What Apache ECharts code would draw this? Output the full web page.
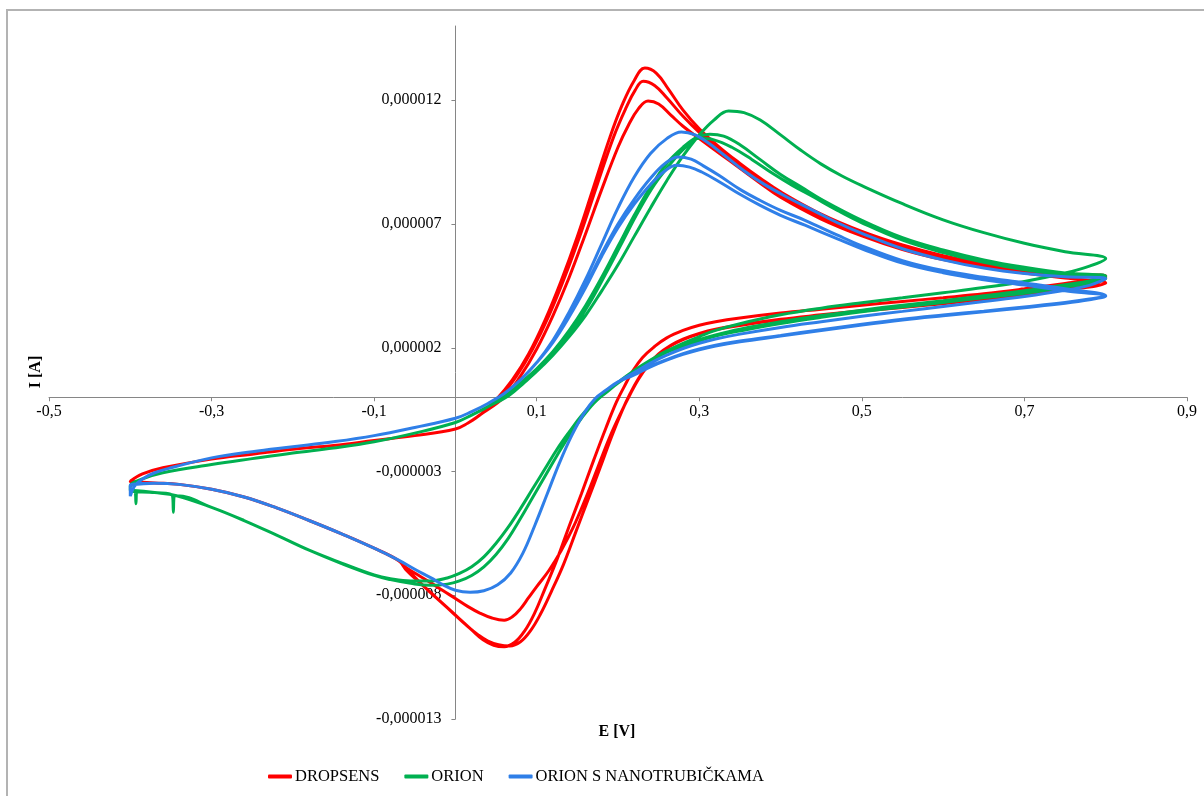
<!DOCTYPE html>
<html>
<head>
<meta charset="utf-8">
<script src="https://cdn.jsdelivr.net/npm/echarts@6/dist/echarts.min.js"></script>
<style>
  html, body { margin: 0; padding: 0; background: #fff; }
  #chart { width: 1204px; height: 796px; }
</style>
</head>
<body>
<div id="chart"></div>
<script>
// Cyclic voltammograms: potential E [V] vs current I (stored in µA, labelled in A)

const seriesNames = ['DROPSENS', 'ORION', 'ORION S NANOTRUBIČKAMA'];
const seriesColors = ['#ff0000', '#00b050', '#2f7fe8'];

// axis ranges
const eRange = [-0.5, 0.9];
const eStep = 0.2;
const iRange = [-13, 15];
const iStep = 5;

// ---- DROPSENS ----
const dropsensStart = [[-0.4,-3.4],[-0.385,-3.1],[-0.36,-2.85],[-0.3,-2.5],[-0.25,-2.3],[-0.2,-2.1],[-0.15,-1.95],[-0.1,-1.75],[-0.05,-1.55],[0,-1.28],[0.015,-1.05],[0.03,-0.72]];
const dropsensReturn = [[-0.07,-6.6],[-0.1,-6.1],[-0.14,-5.52],[-0.18,-4.98],[-0.22,-4.47],[-0.26,-4.03],[-0.3,-3.72],[-0.34,-3.52],[-0.37,-3.46],[-0.4,-3.4]];
const dropsensCycle1 = [[0.05,-0.1],[0.07,0.7],[0.09,1.75],[0.11,3.1],[0.13,4.7],[0.15,6.5],[0.17,8.5],[0.19,10.5],[0.205,11.8],[0.22,12.8],[0.233,13.3],[0.247,13.1],[0.262,12.45],[0.28,11.6],[0.3,10.85],[0.325,10.1],[0.35,9.45],[0.375,8.85],[0.4,8.3],[0.45,7.4],[0.5,6.7],[0.55,6.15],[0.6,5.72],[0.65,5.4],[0.7,5.15],[0.75,4.98],[0.8,4.9],
  [0.78,4.72],[0.75,4.6],[0.7,4.38],[0.65,4.18],[0.6,4.02],[0.55,3.87],[0.5,3.72],[0.45,3.56],[0.4,3.4],[0.35,3.2],[0.32,3.05],[0.3,2.91],[0.28,2.7],[0.26,2.4],[0.245,2.05],[0.23,1.6],[0.218,1.05],[0.208,0.45],[0.198,-0.2],[0.185,-1.25],[0.17,-2.55],[0.155,-3.9],[0.14,-5.2],[0.125,-6.55],[0.11,-7.75],[0.097,-8.75],[0.085,-9.45],[0.073,-9.9],[0.06,-10.08],[0.047,-10.02],[0.034,-9.8],[0.02,-9.4],[0.005,-8.95],[-0.01,-8.5],[-0.025,-8.05],[-0.04,-7.6],[-0.055,-7.1]];
const dropsensCycle2 = [[0.055,0.0],[0.075,0.85],[0.095,1.95],[0.115,3.3],[0.135,4.9],[0.155,6.7],[0.175,8.65],[0.195,10.55],[0.21,11.7],[0.221,12.4],[0.231,12.77],[0.245,12.6],[0.26,12.1],[0.28,11.35],[0.3,10.7],[0.325,10.0],[0.35,9.4],[0.375,8.8],[0.4,8.2],[0.45,7.3],[0.5,6.62],[0.55,6.07],[0.6,5.66],[0.65,5.35],[0.7,5.1],[0.75,4.93],[0.8,4.83],
  [0.78,4.5],[0.75,4.38],[0.7,4.15],[0.65,3.97],[0.6,3.8],[0.55,3.65],[0.5,3.5],[0.45,3.33],[0.4,3.15],[0.35,2.92],[0.32,2.75],[0.3,2.58],[0.28,2.35],[0.265,2.1],[0.25,1.75],[0.237,1.3],[0.225,0.75],[0.215,0.15],[0.205,-0.55],[0.192,-1.6],[0.178,-2.85],[0.163,-4.15],[0.148,-5.45],[0.133,-6.75],[0.118,-7.85],[0.104,-8.8],[0.092,-9.45],[0.08,-9.88],[0.067,-10.05],[0.053,-10.0],[0.04,-9.85],[0.028,-9.6],[0.013,-9.2],[-0.002,-8.75],[-0.017,-8.3],[-0.032,-7.85],[-0.047,-7.4],[-0.06,-7.0]];
const dropsensCycle3 = [[0.06,0.0],[0.08,0.85],[0.1,1.95],[0.12,3.3],[0.14,4.85],[0.16,6.6],[0.18,8.4],[0.2,10.1],[0.213,11.0],[0.225,11.65],[0.237,11.97],[0.25,11.85],[0.265,11.4],[0.28,10.95],[0.3,10.45],[0.325,9.85],[0.35,9.25],[0.375,8.65],[0.4,8.08],[0.45,7.2],[0.5,6.52],[0.55,5.97],[0.6,5.56],[0.65,5.26],[0.7,5.02],[0.75,4.82],[0.8,4.62],
  [0.78,4.45],[0.75,4.35],[0.7,4.12],[0.65,3.95],[0.6,3.78],[0.55,3.63],[0.5,3.48],[0.45,3.31],[0.4,3.13],[0.35,2.9],[0.32,2.73],[0.3,2.56],[0.28,2.33],[0.265,2.08],[0.25,1.73],[0.237,1.28],[0.225,0.72],[0.215,0.12],[0.204,-0.6],[0.19,-1.6],[0.175,-2.85],[0.16,-4.1],[0.145,-5.25],[0.13,-6.2],[0.115,-7.0],[0.1,-7.65],[0.09,-8.1],[0.08,-8.55],[0.07,-8.87],[0.06,-9.01],[0.045,-8.92],[0.03,-8.72],[0.015,-8.45],[0,-8.13],[-0.015,-7.82],[-0.03,-7.5],[-0.045,-7.2],[-0.06,-6.9]];

// ---- ORION ----
const orionStart = [[-0.4,-3.6],[-0.385,-3.3],[-0.36,-3.05],[-0.3,-2.72],[-0.25,-2.48],[-0.2,-2.25],[-0.15,-2.05],[-0.1,-1.8],[-0.05,-1.45],[0,-1.02],[0.02,-0.72],[0.04,-0.38]];
const orionCathodic = [[0.26,1.87],[0.24,1.5],[0.22,1.08],[0.2,0.6],[0.185,0.2],[0.17,-0.25],[0.155,-0.85],[0.14,-1.55],[0.125,-2.35],[0.11,-3.2],[0.095,-4.05],[0.08,-4.9],[0.065,-5.7],[0.05,-6.35],[0.035,-6.85],[0.02,-7.2],[0.005,-7.42],[-0.01,-7.55],[-0.03,-7.6],[-0.055,-7.52],[-0.08,-7.37],[-0.1,-7.2],[-0.14,-6.72],[-0.18,-6.18],[-0.22,-5.57],[-0.26,-4.98],[-0.3,-4.45],[-0.343,-3.98],[-0.37,-3.85],[-0.4,-3.76]];
const orionCathodicSpikes = [[0.26,1.87],[0.24,1.5],[0.22,1.08],[0.2,0.6],[0.185,0.2],[0.17,-0.25],[0.155,-0.85],[0.14,-1.55],[0.125,-2.35],[0.11,-3.2],[0.095,-4.05],[0.08,-4.9],[0.065,-5.7],[0.05,-6.35],[0.035,-6.85],[0.02,-7.2],[0.005,-7.42],[-0.01,-7.55],[-0.03,-7.6],[-0.055,-7.52],[-0.08,-7.37],[-0.1,-7.2],[-0.14,-6.72],[-0.18,-6.18],[-0.22,-5.57],[-0.26,-4.98],[-0.3,-4.45],[-0.343,-3.98],[-0.346,-4.0],[-0.347,-4.65],[-0.348,-4.0],[-0.37,-3.85],[-0.392,-3.8],[-0.393,-4.3],[-0.394,-3.8],[-0.4,-3.76]];
const orionCathodicLate = [[0.26,1.82],[0.24,1.45],[0.22,1.03],[0.2,0.57],[0.185,0.18],[0.17,-0.22],[0.155,-0.75],[0.14,-1.4],[0.125,-2.1],[0.11,-2.9],[0.095,-3.7],[0.08,-4.5],[0.065,-5.25],[0.05,-5.9],[0.035,-6.45],[0.02,-6.85],[0.005,-7.12],[-0.01,-7.3],[-0.03,-7.42],[-0.055,-7.42],[-0.08,-7.33],[-0.1,-7.18],[-0.14,-6.7],[-0.18,-6.18],[-0.22,-5.57],[-0.26,-4.98],[-0.3,-4.45],[-0.343,-3.98],[-0.37,-3.85],[-0.4,-3.76]];
const orionCycle1 = [[0.06,0.0],[0.08,0.5],[0.1,1.05],[0.12,1.7],[0.14,2.45],[0.16,3.3],[0.18,4.3],[0.2,5.35],[0.22,6.5],[0.24,7.65],[0.26,8.75],[0.28,9.75],[0.3,10.6],[0.318,11.2],[0.336,11.57],[0.355,11.5],[0.375,11.2],[0.4,10.6],[0.425,9.98],[0.45,9.42],[0.475,8.95],[0.5,8.55],[0.55,7.82],[0.6,7.17],[0.65,6.65],[0.7,6.22],[0.75,5.88],[0.8,5.6],
  [0.78,5.3],[0.75,5.02],[0.7,4.68],[0.65,4.43],[0.6,4.22],[0.55,4.02],[0.5,3.82],[0.45,3.6],[0.4,3.33],[0.35,2.97],[0.32,2.7],[0.3,2.45],[0.28,2.18]];
const orionCycle2 = [[0.06,0.05],[0.08,0.58],[0.1,1.15],[0.12,1.85],[0.14,2.7],[0.16,3.7],[0.18,4.85],[0.2,6.1],[0.22,7.35],[0.24,8.5],[0.26,9.45],[0.28,10.1],[0.297,10.5],[0.313,10.63],[0.33,10.55],[0.35,10.2],[0.375,9.6],[0.4,9.0],[0.425,8.5],[0.45,8.0],[0.5,7.15],[0.55,6.45],[0.6,5.95],[0.65,5.55],[0.7,5.25],[0.75,5.02],[0.8,4.9],
  [0.78,4.7],[0.75,4.55],[0.7,4.3],[0.65,4.1],[0.6,3.9],[0.55,3.72],[0.5,3.52],[0.45,3.3],[0.4,3.05],[0.35,2.75],[0.32,2.52],[0.3,2.33],[0.28,2.1]];
const orionCycle3 = [[0.065,0.05],[0.085,0.6],[0.105,1.2],[0.125,1.9],[0.145,2.78],[0.165,3.8],[0.185,5.0],[0.205,6.25],[0.225,7.5],[0.245,8.6],[0.265,9.45],[0.283,10.1],[0.3,10.46],[0.318,10.4],[0.34,10.1],[0.365,9.6],[0.39,9.05],[0.415,8.55],[0.44,8.1],[0.47,7.55],[0.5,7.05],[0.55,6.35],[0.6,5.85],[0.65,5.45],[0.7,5.15],[0.75,4.95],[0.8,4.8],
  [0.78,4.6],[0.75,4.45],[0.7,4.2],[0.65,4.02],[0.6,3.83],[0.55,3.65],[0.5,3.45],[0.45,3.23],[0.4,2.98],[0.35,2.68],[0.32,2.47],[0.3,2.28],[0.28,2.05]];

// ---- ORION S NANOTRUBIČKAMA ----
const nanoStart = [[-0.4,-4.0],[-0.395,-3.6],[-0.385,-3.3],[-0.37,-3.05],[-0.35,-2.85],[-0.3,-2.45],[-0.25,-2.2],[-0.2,-2.0],[-0.15,-1.8],[-0.1,-1.55],[-0.05,-1.22],[0,-0.85],[0.02,-0.58],[0.04,-0.25],[0.06,0.15],[0.08,0.7],[0.1,1.4]];
const nanoCathodic = [[0.2,0.62],[0.185,0.28],[0.172,-0.05],[0.158,-0.65],[0.143,-1.55],[0.128,-2.65],[0.113,-3.9],[0.098,-5.15],[0.083,-6.3],[0.068,-7.1],[0.052,-7.58],[0.035,-7.82],[0.018,-7.88],[0,-7.8],[-0.015,-7.58],[-0.03,-7.3],[-0.05,-6.95],[-0.07,-6.58],[-0.1,-6.1],[-0.14,-5.52],[-0.18,-4.98],[-0.22,-4.47],[-0.26,-4.03],[-0.3,-3.72],[-0.34,-3.52],[-0.37,-3.47],[-0.4,-3.55]];
const nanoCycle1 = [[0.12,2.3],[0.14,3.45],[0.16,4.75],[0.18,6.2],[0.2,7.65],[0.22,8.9],[0.24,9.85],[0.26,10.45],[0.278,10.72],[0.295,10.6],[0.31,10.3],[0.33,9.8],[0.355,9.15],[0.38,8.6],[0.41,8.05],[0.44,7.55],[0.47,7.05],[0.5,6.62],[0.55,6.0],[0.6,5.55],[0.65,5.22],[0.7,5.0],[0.75,4.87],[0.8,4.8],
  [0.78,4.52],[0.75,4.32],[0.7,4.07],[0.65,3.87],[0.6,3.67],[0.55,3.47],[0.5,3.27],[0.45,3.05],[0.4,2.82],[0.35,2.55],[0.32,2.35],[0.3,2.18],[0.28,1.97],[0.26,1.7],[0.24,1.38],[0.22,1.0]];
const nanoCycle2 = [[0.12,2.25],[0.14,3.3],[0.16,4.5],[0.18,5.8],[0.2,7.0],[0.22,8.0],[0.24,8.85],[0.258,9.45],[0.274,9.71],[0.29,9.62],[0.305,9.35],[0.325,8.95],[0.35,8.4],[0.375,7.95],[0.4,7.55],[0.43,7.15],[0.47,6.55],[0.5,6.12],[0.55,5.52],[0.6,5.12],[0.65,4.85],[0.7,4.62],[0.75,4.38],[0.8,4.1],
  [0.78,3.97],[0.75,3.83],[0.7,3.65],[0.65,3.48],[0.6,3.32],[0.55,3.15],[0.5,2.95],[0.45,2.73],[0.4,2.5],[0.35,2.27],[0.32,2.1],[0.3,1.95],[0.28,1.76],[0.26,1.52],[0.24,1.25],[0.22,0.92]];
const nanoCycle3 = [[0.12,2.22],[0.14,3.25],[0.16,4.42],[0.18,5.7],[0.2,6.85],[0.22,7.8],[0.24,8.6],[0.258,9.15],[0.272,9.37],[0.288,9.3],[0.303,9.1],[0.325,8.7],[0.35,8.2],[0.375,7.75],[0.4,7.35],[0.43,6.95],[0.47,6.4],[0.5,6.0],[0.55,5.42],[0.6,5.03],[0.65,4.75],[0.7,4.53],[0.75,4.3],[0.8,4.08],
  [0.78,3.94],[0.75,3.8],[0.7,3.62],[0.65,3.45],[0.6,3.29],[0.55,3.12],[0.5,2.92],[0.45,2.7],[0.4,2.47],[0.35,2.24],[0.32,2.07],[0.3,1.92],[0.28,1.73],[0.26,1.5],[0.24,1.23],[0.22,0.9]];

// each voltammogram is a chain of cycles drawn as one continuous trace
const dropsensTrace = [].concat(
  dropsensStart, dropsensCycle1, dropsensReturn,
  dropsensStart, dropsensCycle2, dropsensReturn,
  dropsensStart, dropsensCycle3, dropsensReturn);
const orionTrace = [].concat(
  orionStart, orionCycle1, orionCathodicSpikes,
  orionStart, orionCycle2, orionCathodic,
  orionStart, orionCycle3, orionCathodicLate);
const nanoTrace = [].concat(
  nanoStart, nanoCycle1, nanoCathodic,
  nanoStart, nanoCycle2, nanoCathodic,
  nanoStart, nanoCycle3, nanoCathodic);

const traces = [dropsensTrace, orionTrace, nanoTrace];

const serif = '"Liberation Serif", "Times New Roman", serif';
const axisGray = '#868686';

// plot rectangle
const W = 1204, H = 796;
const gridBox = { left: 49, right: 17, top: 26, bottom: 77 };
const plotW = W - gridBox.left - gridBox.right;
const plotH = H - gridBox.top - gridBox.bottom;
// shift the axes so that they cross at E = 0, I = 0
const yAxisShift = -plotW * (0 - eRange[0]) / (eRange[1] - eRange[0]);
const xAxisShift = -plotH * (0 - iRange[0]) / (iRange[1] - iRange[0]);

const chart = echarts.init(document.getElementById('chart'), null, { renderer: 'canvas' });

chart.setOption({
  animation: false,
  backgroundColor: '#ffffff',
  grid: Object.assign({ containLabel: false, outerBoundsMode: 'none' }, gridBox),
  xAxis: {
    type: 'value', position: 'bottom', offset: xAxisShift,
    min: eRange[0], max: eRange[1], interval: eStep,
    axisLine: { onZero: false, lineStyle: { color: axisGray, width: 1 } },
    axisTick: { show: true, length: 4, lineStyle: { color: axisGray } },
    splitLine: { show: false },
    axisLabel: {
      margin: 7,
      color: '#000', fontFamily: serif, fontSize: 16,
      formatter: v => v.toFixed(1).replace('.', ',')
    }
  },
  yAxis: {
    type: 'value', position: 'left', offset: yAxisShift,
    min: iRange[0], max: iRange[1], interval: iStep,
    axisLine: { onZero: false, lineStyle: { color: axisGray, width: 1 } },
    axisTick: { show: true, length: 4, lineStyle: { color: axisGray } },
    splitLine: { show: false },
    axisLabel: {
      margin: 14, showMaxLabel: false,
      color: '#000', fontFamily: serif, fontSize: 16,
      formatter: v => (v * 1e-6).toFixed(6).replace('.', ',')
    }
  },
  legend: {
    left: 263, top: 763,
    icon: 'roundRect',
    itemWidth: 24, itemHeight: 4, itemGap: 25,
    textStyle: { color: '#000', fontFamily: serif, fontSize: 16.5, padding: [0, 0, 0, -2] },
    data: seriesNames
  },
  graphic: [
    { type: 'rect', silent: true, shape: { x: 7, y: 10, width: 1300, height: 900 },
      style: { fill: null, stroke: '#b3b3b3', lineWidth: 2 } },
    { type: 'text', silent: true, x: 36, y: 372, rotation: Math.PI / 2,
      style: { text: 'I [A]', font: 'bold 16px ' + serif, fill: '#000', align: 'center', verticalAlign: 'middle' } },
    { type: 'text', silent: true, x: 617, y: 732,
      style: { text: 'E [V]', font: 'bold 16px ' + serif, fill: '#000', align: 'center', verticalAlign: 'middle' } }
  ],
  series: traces.map((trace, i) => ({
    name: seriesNames[i],
    type: 'line',
    data: trace,
    smooth: 0.4,
    showSymbol: false,
    symbol: 'none',
    color: seriesColors[i],
    lineStyle: { width: 3, color: seriesColors[i] },
    z: 2 + i
  }))
});
</script>
</body>
</html>
